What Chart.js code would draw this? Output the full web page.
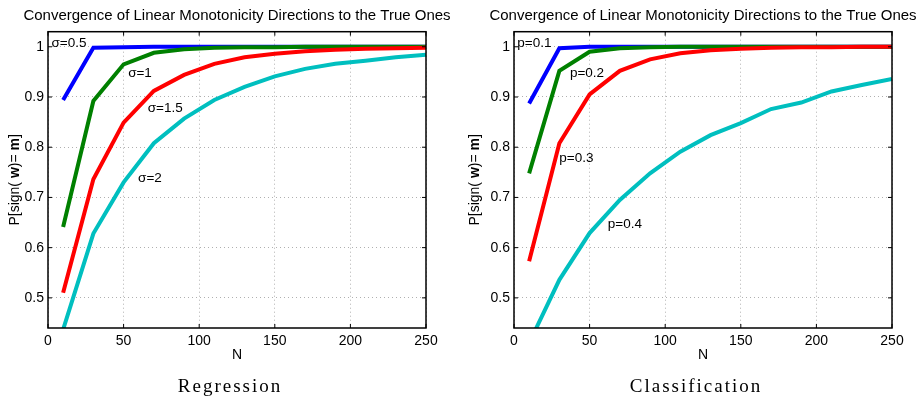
<!DOCTYPE html>
<html>
<head>
<meta charset="utf-8">
<script src="https://cdn.jsdelivr.net/npm/chart.js@4"></script>
<style>
  body { margin: 0; background: #fff; }
  .wrap { position: absolute; top: 0; width: 460px; height: 399px; }
</style>
</head>
<body>
<div class="wrap" style="left:0"><canvas id="regChart" width="460" height="399"></canvas></div>
<div class="wrap" style="left:460px"><canvas id="clsChart" width="460" height="399"></canvas></div>
<script>
// sample sizes on the x axis
const nValues = [10, 30, 50, 70, 90, 110, 130, 150, 170, 190, 210, 230, 250];
const xTicks = [0, 50, 100, 150, 200, 250];
const yTicks = [0.5, 0.6, 0.7, 0.8, 0.9, 1];

// regression, noise level sigma
const sigma05 = [0.894, 0.998, 0.999, 1, 1, 1, 1, 1, 1, 1, 1, 1, 1];
const sigma1  = [0.641, 0.892, 0.965, 0.988, 0.995, 0.998, 0.999, 0.999, 1, 1, 1, 1, 1];
const sigma15 = [0.51, 0.736, 0.849, 0.912, 0.944, 0.966, 0.979, 0.986, 0.991, 0.994, 0.996, 0.997, 0.998];
const sigma2  = [0.437, 0.628, 0.73, 0.808, 0.857, 0.894, 0.92, 0.941, 0.956, 0.966, 0.972, 0.979, 0.984];

// classification, label flip probability p
const p01 = [0.887, 0.997, 1, 1, 1, 1, 1, 1, 1, 1, 1, 1, 1];
const p02 = [0.748, 0.952, 0.99, 0.997, 0.999, 1, 1, 1, 1, 1, 1, 1, 1];
const p03 = [0.573, 0.808, 0.905, 0.952, 0.975, 0.987, 0.993, 0.996, 0.998, 0.999, 0.999, 1, 1];
const p04 = [0.41, 0.536, 0.629, 0.695, 0.748, 0.791, 0.824, 0.848, 0.876, 0.889, 0.911, 0.924, 0.936];

const colors = ['#0000ff', '#008000', '#ff0000', '#00bfbf'];
const plotTitle = 'Convergence of Linear Monotonicity Directions to the True Ones';

const SANS = '"Liberation Sans", Arial, sans-serif';

// curve labels, in data coordinates (N, probability)
const regLabels = [
  { text: 'σ=0.5', n: 2.3, p: 1.007 },
  { text: 'σ=1', n: 53, p: 0.948 },
  { text: 'σ=1.5', n: 66, p: 0.878 },
  { text: 'σ=2', n: 59.6, p: 0.738 }
];
const clsLabels = [
  { text: 'p=0.1', n: 2.2, p: 1.007 },
  { text: 'p=0.2', n: 37, p: 0.948 },
  { text: 'p=0.3', n: 30, p: 0.778 },
  { text: 'p=0.4', n: 62, p: 0.647 }
];

const framePlugin = {
  id: 'frame',
  afterDatasetsDraw(chart, args, opts) {
    const { ctx, chartArea: a, scales: { x, y } } = chart;
    ctx.save();

    // little inward tick marks on all four sides
    ctx.strokeStyle = '#000';
    ctx.lineWidth = 1;
    ctx.beginPath();
    x.ticks.forEach(t => {
      const px = x.getPixelForValue(t.value);
      ctx.moveTo(px, a.bottom); ctx.lineTo(px, a.bottom - 4);
      ctx.moveTo(px, a.top); ctx.lineTo(px, a.top + 4);
    });
    y.ticks.forEach(t => {
      const py = y.getPixelForValue(t.value);
      ctx.moveTo(a.left, py); ctx.lineTo(a.left + 4, py);
      ctx.moveTo(a.right, py); ctx.lineTo(a.right - 4, py);
    });
    ctx.stroke();

    // box
    ctx.lineWidth = 1.5;
    ctx.strokeRect(a.left, a.top, a.right - a.left, a.bottom - a.top);

    // curve labels
    ctx.fillStyle = '#000';
    ctx.font = '13.5px ' + SANS;
    ctx.textAlign = 'left';
    ctx.textBaseline = 'middle';
    opts.labels.forEach(l => {
      ctx.fillText(l.text, x.getPixelForValue(l.n), y.getPixelForValue(l.p));
    });

    const cx = (a.left + a.right) / 2;

    // title
    ctx.textAlign = 'center';
    ctx.textBaseline = 'alphabetic';
    ctx.font = '15px ' + SANS;
    ctx.fillText(plotTitle, cx, 20);

    // x axis title
    ctx.font = '14px ' + SANS;
    ctx.textBaseline = 'middle';
    ctx.fillText('N', cx, 355);

    // y axis title with bold w and m
    const parts = [['P[sign( ', false], ['w', true], [')= ', false], ['m', true], [']', false]];
    const fontOf = b => (b ? 'bold ' : '') + '14px ' + SANS;
    let total = 0;
    parts.forEach(([s, b]) => { ctx.font = fontOf(b); total += ctx.measureText(s).width; });
    ctx.translate(15, (a.top + a.bottom) / 2);
    ctx.rotate(-Math.PI / 2);
    ctx.textAlign = 'left';
    let pos = -total / 2;
    parts.forEach(([s, b]) => {
      ctx.font = fontOf(b);
      ctx.fillText(s, pos, 0);
      pos += ctx.measureText(s).width;
    });
    ctx.setTransform(1, 0, 0, 1, 0, 0);

    // caption under the panel
    ctx.font = '19px "Liberation Serif", "Times New Roman", serif';
    ctx.letterSpacing = '2px';
    ctx.textAlign = 'center';
    ctx.textBaseline = 'alphabetic';
    ctx.fillText(opts.caption, cx - 7, 392);
    ctx.restore();
  }
};

function makeSets(series) {
  return series.map((vals, i) => ({
    data: nValues.map((n, k) => ({ x: n, y: vals[k] })),
    borderColor: colors[i],
    backgroundColor: colors[i],
    borderWidth: 4,
    pointRadius: 0,
    tension: 0,
    fill: false,
    order: 4 - i
  }));
}

function createChart(id, series, labels, caption, padLeft, padRight) {
  const ctx = document.getElementById(id).getContext('2d');
  return new Chart(ctx, {
    type: 'line',
    data: { datasets: makeSets(series) },
    plugins: [framePlugin],
    options: {
      responsive: false,
      animation: false,
      layout: { padding: { top: 31.7, bottom: 33, left: padLeft, right: padRight } },
      plugins: {
        legend: { display: false },
        tooltip: { enabled: false },
        title: { display: false },
        frame: { labels: labels, caption: caption }
      },
      scales: {
        x: {
          type: 'linear',
          min: 0,
          max: 250,
          afterBuildTicks: s => { s.ticks = xTicks.map(v => ({ value: v })); },
          afterFit: s => { s.height = 38; },
          grid: { color: '#b0b0b0', lineWidth: 1, drawTicks: false },
          border: { display: false, dash: [1, 3] },
          ticks: { color: '#000', padding: 5, font: { family: SANS, size: 14 }, maxRotation: 0 }
        },
        y: {
          type: 'linear',
          min: 0.44,
          max: 1.03,
          afterBuildTicks: s => { s.ticks = yTicks.map(v => ({ value: v })); },
          afterFit: s => { s.width = 48; },
          grid: { color: '#b0b0b0', lineWidth: 1, drawTicks: false },
          border: { display: false, dash: [1, 3] },
          ticks: {
            color: '#000',
            padding: 4,
            font: { family: SANS, size: 14 },
            callback: v => String(Number(v.toFixed(1)))
          }
        }
      }
    }
  });
}

createChart('regChart', [sigma05, sigma1, sigma15, sigma2], regLabels, 'Regression', 0, 34);
createChart('clsChart', [p01, p02, p03, p04], clsLabels, 'Classification', 6, 28);
</script>
</body>
</html>
